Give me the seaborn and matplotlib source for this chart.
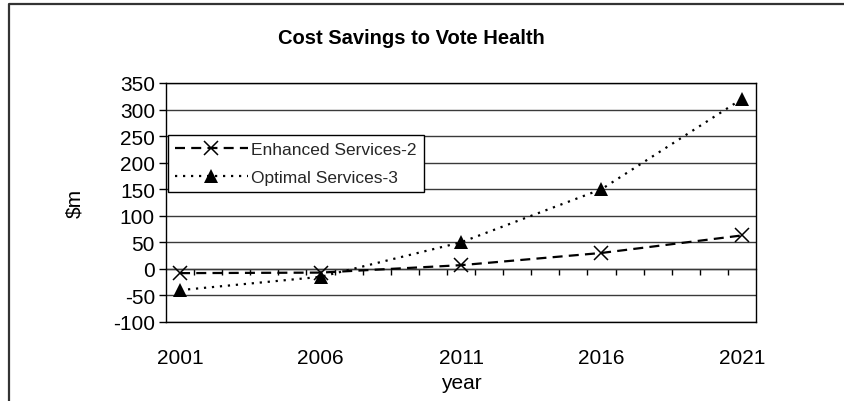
import matplotlib
matplotlib.use("Agg")
import matplotlib.pyplot as plt
from matplotlib.lines import Line2D
import seaborn as sns
import pandas as pd

# ---- data ----
years = [2001, 2006, 2011, 2016, 2021]
enhanced = [-8, -7, 7, 30, 63]
optimal = [-40, -15, 50, 150, 320]
series_names = ["Enhanced Services-2", "Optimal Services-3"]
y_ticks = [-100, -50, 0, 50, 100, 150, 200, 250, 300, 350]
title = "Cost Savings to Vote Health"
x_label = "year"
y_label = r"\$m"

df = pd.DataFrame({
    "year": years * 2,
    "value": enhanced + optimal,
    "series": [series_names[0]] * len(years) + [series_names[1]] * len(years),
})

sns.set_theme(style="white")
plt.rcParams["font.family"] = ["Liberation Sans", "DejaVu Sans"]
plt.rcParams["axes.unicode_minus"] = False

W, H = 844, 402
fig = plt.figure(figsize=(W / 100, H / 100), dpi=100)
ax = fig.add_axes([166 / W, 1 - 323 / H, (756 - 166) / W, (323 - 84) / H])

styles = {
    series_names[0]: dict(linestyle=(0, (4.5, 2.8)), marker="x", markersize=10.5,
                          markeredgewidth=1.1, markeredgecolor="black",
                          color="black"),
    series_names[1]: dict(linestyle=(0, (1, 2.6)), marker="^", markersize=10,
                          markeredgewidth=0, markerfacecolor="black",
                          color="black"),
}
for name in series_names:
    sub = df[df["series"] == name]
    sns.lineplot(data=sub, x="year", y="value", ax=ax, label=name,
                 linewidth=1.6, **styles[name])

ymin, ymax = y_ticks[0], y_ticks[-1]
ax.set_ylim(ymin, ymax)
ax.set_xlim(years[0] - 0.5, years[-1] + 0.5)
ax.set_yticks(y_ticks)
ax.set_xticks(years)
ax.set_xticklabels([str(y) for y in years])
ax.tick_params(axis="x", length=0, pad=19, labelsize=15, colors="black")
ax.tick_params(axis="y", length=5, width=1, direction="out", pad=3,
               labelsize=15, colors="black", left=True)
ax.grid(axis="y", color="#3a3a3a", linewidth=1.0)
ax.grid(axis="x", visible=False)
for s in ax.spines.values():
    s.set_visible(True)
    s.set_color("black")
    s.set_linewidth(1.0)

# category-boundary ticks on the zero line
zero_frac = (0 - ymin) / (ymax - ymin)
sec = ax.secondary_xaxis(zero_frac)
sec.set_xticks([y + 0.5 for y in range(years[0], years[-1])])
sec.set_xticklabels([])
sec.tick_params(axis="x", length=4.5, width=1, direction="out", colors="black")
sec.spines["bottom"].set_color("#3a3a3a")
sec.spines["bottom"].set_linewidth(1.0)
sec.spines["top"].set_visible(False)

ax.set_xlabel(x_label, fontsize=15, color="black")
ax.set_ylabel(y_label, fontsize=15, color="black")
ax.xaxis.set_label_coords(0.5, -0.213)
ax.yaxis.set_label_coords(-0.139, 0.5)

fig.text(411.5 / W, 1 - 38.5 / H, title, ha="center", va="center",
         fontsize=14.5, fontweight="bold", color="black")

leg = ax.legend(loc="upper left", bbox_to_anchor=(0.003, 0.782),
                borderaxespad=0, frameon=True, fancybox=False,
                edgecolor="black", framealpha=1, fontsize=12.5,
                handlelength=4.2, handletextpad=0.2, borderpad=0.4,
                labelspacing=0.72)
leg.get_frame().set_linewidth(1.0)

# outer chart-area border (left and top edges visible)
fig.add_artist(Line2D([9 / W, 9 / W, 1.0], [0.0, 1 - 5 / H, 1 - 5 / H],
                      transform=fig.transFigure, color="#333333", linewidth=1.6))

fig.savefig("out.png", dpi=100, facecolor="white")
